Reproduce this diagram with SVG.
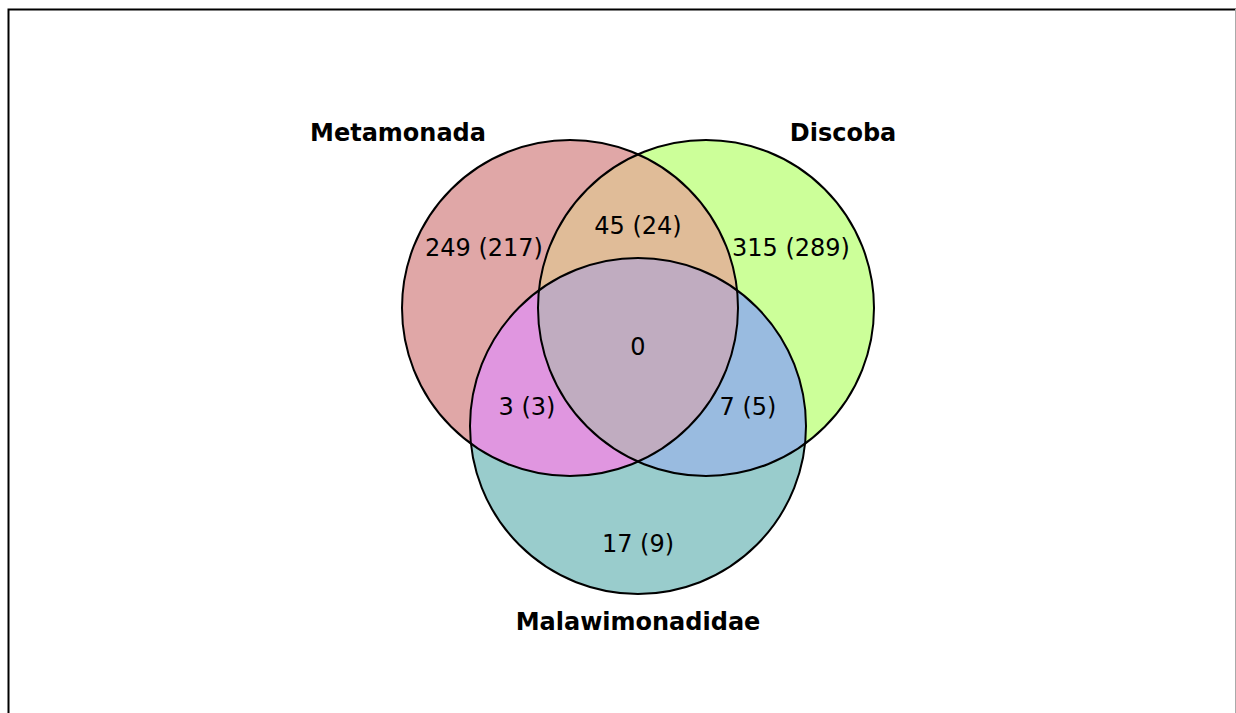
<svg xmlns="http://www.w3.org/2000/svg" width="1236" height="713" viewBox="0 0 1236 713">
<style>
.lbl{font-family:"DejaVu Sans",sans-serif;font-weight:bold;font-size:24px;text-anchor:middle;fill:#000}
.num{font-family:"DejaVu Sans",sans-serif;font-size:24px;text-anchor:middle;fill:#000}
.ol{fill:none;stroke:#000;stroke-width:2}
</style>
<defs>
<clipPath id="cM"><circle cx="570" cy="308" r="168"/></clipPath>
<clipPath id="cD"><circle cx="706" cy="308" r="168"/></clipPath>
<clipPath id="cL"><circle cx="638" cy="426" r="168"/></clipPath>
</defs>
<rect x="0" y="0" width="1236" height="713" fill="#fff"/>
<path d="M8.5 713 V9.5 H1236" fill="none" stroke="#000" stroke-width="2"/>
<line x1="1235.5" y1="9" x2="1235.5" y2="713" stroke="#aaa" stroke-width="1"/>
<g id="regions">
<circle cx="570" cy="308" r="168" fill="#e0a7a7"/>
<circle cx="706" cy="308" r="168" fill="#ccff99"/>
<circle cx="638" cy="426" r="168" fill="#99cccc"/>
<circle cx="706" cy="308" r="168" fill="#e0bc98" clip-path="url(#cM)"/>
<circle cx="638" cy="426" r="168" fill="#e096e0" clip-path="url(#cM)"/>
<circle cx="638" cy="426" r="168" fill="#99bbe0" clip-path="url(#cD)"/>
<g clip-path="url(#cM)"><circle cx="638" cy="426" r="168" fill="#c0acc0" clip-path="url(#cD)"/></g>
</g>
<g id="Metamonada"><circle class="ol" cx="570" cy="308" r="168"/><text class="lbl" x="398" y="141">Metamonada</text></g>
<g id="Discoba"><circle class="ol" cx="706" cy="308" r="168"/><text class="lbl" x="843" y="141">Discoba</text></g>
<g id="Malawimonadidae"><circle class="ol" cx="638" cy="426" r="168"/><text class="lbl" x="638" y="630">Malawimonadidae</text></g>
<g id="counts">
<text class="num" x="484" y="256">249 (217)</text>
<text class="num" x="638" y="234">45 (24)</text>
<text class="num" x="791" y="256">315 (289)</text>
<text class="num" x="638" y="355">0</text>
<text class="num" x="527" y="415">3 (3)</text>
<text class="num" x="748" y="415">7 (5)</text>
<text class="num" x="638" y="552">17 (9)</text>
</g>
<g id="connectors"></g>
</svg>
